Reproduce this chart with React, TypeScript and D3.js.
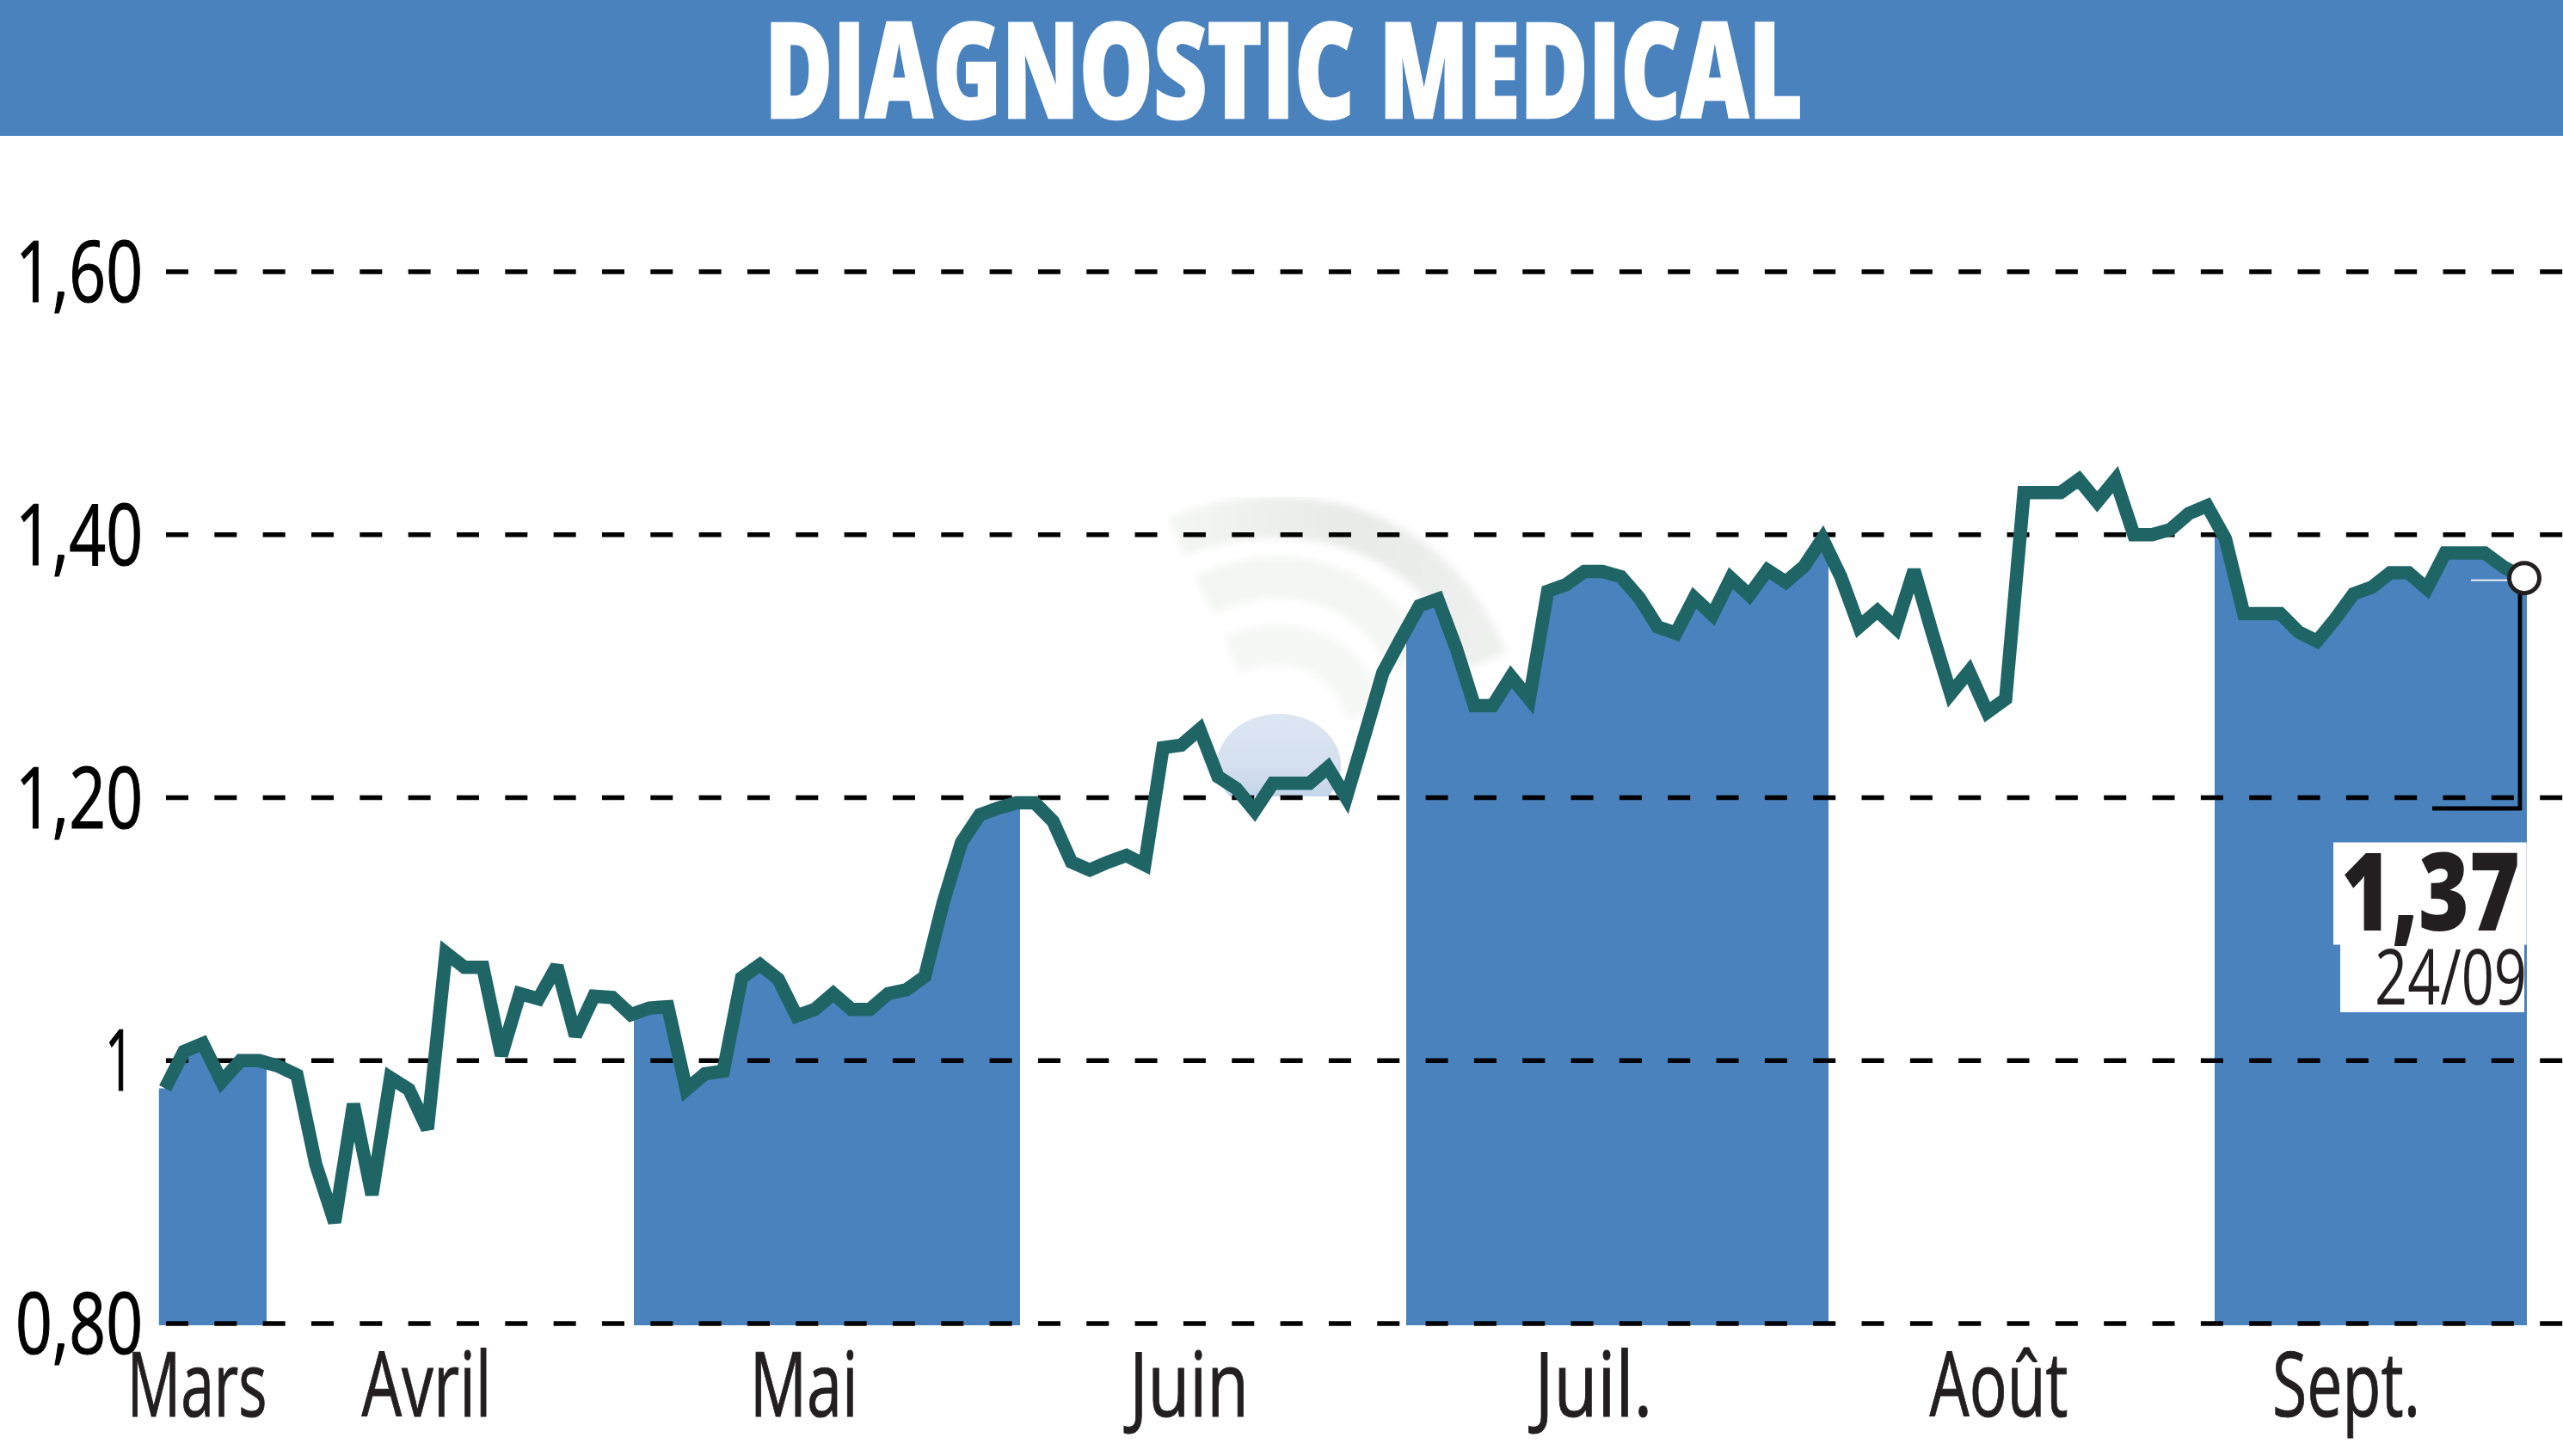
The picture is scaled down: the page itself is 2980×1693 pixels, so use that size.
import React from "react";
import * as d3 from "d3";

const title = "DIAGNOSTIC MEDICAL";
const yTicks = [0.8, 1, 1.2, 1.4, 1.6];
const yTickLabels = ["0,80", "1", "1,20", "1,40", "1,60"];
const monthLabels = ["Mars", "Avril", "Mai", "Juin", "Juil.", "Août", "Sept."];
// Session index around which each month label is centred
const monthCentres = [1.69, 13.95, 34.4, 55.43, 77.5, 99.63, 118.6];
// Alternate month bands, as session indices
const bandStarts = [-0.34, 25.16, 67.28, 111.42];
const bandEnds = [5.39, 46.2, 90.33, 128.13];
const lastValue = "1,37";
const lastDate = "24/09";

const closes = [
  0.979, 1.007, 1.013, 0.984, 1.0, 1.0, 0.996, 0.989, 0.921, 0.877,
  0.967, 0.898, 0.987, 0.978, 0.948, 1.082, 1.071, 1.071, 1.004, 1.051,
  1.047, 1.072, 1.019, 1.049, 1.048, 1.035, 1.04, 1.041, 0.978, 0.99,
  0.992, 1.063, 1.073, 1.062, 1.034, 1.039, 1.051, 1.039, 1.039, 1.051,
  1.054, 1.064, 1.12, 1.166, 1.187, 1.192, 1.196, 1.196, 1.182, 1.151,
  1.145, 1.151, 1.156, 1.149, 1.238, 1.24, 1.252, 1.216, 1.207, 1.19,
  1.211, 1.211, 1.211, 1.223, 1.2, 1.247, 1.295, 1.321, 1.346, 1.351,
  1.314, 1.27, 1.27, 1.292, 1.275, 1.357, 1.362, 1.372, 1.372, 1.368,
  1.352, 1.33, 1.325, 1.352, 1.339, 1.367, 1.354, 1.373, 1.364, 1.376,
  1.397, 1.368, 1.33, 1.342, 1.329, 1.373, 1.325, 1.279, 1.296, 1.265,
  1.275, 1.432, 1.432, 1.432, 1.442, 1.425, 1.442, 1.4, 1.4, 1.404,
  1.416, 1.422, 1.397, 1.34, 1.34, 1.34, 1.326, 1.319, 1.336, 1.355,
  1.36, 1.371, 1.371, 1.359, 1.386, 1.386, 1.386, 1.375, 1.367,
];

const BLUE = "#4a82be";
const LINE = "#1f6566";
const INK = "#231f20";
const FONT = "'Open Sans', sans-serif";
const W = 2980;
const H = 1693;

const xScale = d3
  .scaleLinear()
  .domain([0, 10, 30, 90, 124, 128])
  .range([192, 411, 841, 2119, 2843, 2935]);
const yScale = d3.scaleLinear().domain([1, 1.2]).range([1233.3, 927.5]);

type Pt = [number, number];
const points: Pt[] = closes.map((v, i) => [i, v]);
const areaPoints: Pt[] = [
  [bandStarts[0], closes[0]],
  ...points,
  [bandEnds[bandEnds.length - 1], closes[closes.length - 1]],
];

const lineGen = d3.line<Pt>().x((d) => xScale(d[0])).y((d) => yScale(d[1]));
const areaGen = d3
  .area<Pt>()
  .x((d) => xScale(d[0]))
  .y0(1541)
  .y1((d) => yScale(d[1]));

const monthWidths = [163, 151, 126, 139, 137, 161, 172];
const tickWidths = [148, 34, 148, 148, 148];

export default function App() {
  const last = closes.length - 1;
  const cx = xScale(last);
  const cy = yScale(closes[last]);
  return (
    <svg
      width={W}
      height={H}
      viewBox={`0 0 ${W} ${H}`}
      style={{ position: "absolute", left: 0, top: 0, display: "block", background: "#fff" }}
    >
      <defs>
        <filter id="soft" x="-10%" y="-10%" width="120%" height="120%">
          <feGaussianBlur stdDeviation="5" />
        </filter>
        <linearGradient id="dome" x1="0" y1="0" x2="0" y2="1">
          <stop offset="0" stopColor="#dde6f3" />
          <stop offset="0.5" stopColor="#d5e0f0" />
          <stop offset="1" stopColor="#b9cee6" />
        </linearGradient>
        <linearGradient id="arcA" x1="0" y1="0" x2="1" y2="0">
          <stop offset="0" stopColor="#f3f6f2" />
          <stop offset="0.55" stopColor="#e8eae8" />
          <stop offset="1" stopColor="#eef0ee" />
        </linearGradient>
        <clipPath id="domeClip">
          <rect x={1400} y={820} width={180} height={106} />
        </clipPath>
        {bandStarts.map((s, i) => (
          <clipPath id={`band${i}`} key={i}>
            <rect x={xScale(s)} y={0} width={xScale(bandEnds[i]) - xScale(s)} height={H} />
          </clipPath>
        ))}
      </defs>

      <rect x={0} y={0} width={W} height={158} fill={BLUE} />
      <text
        x={889}
        y={137}
        fontFamily={FONT}
        fontWeight={800}
        fontSize={155}
        fill="#fff"
        stroke="#fff"
        strokeWidth={2.5}
        textLength={1207}
        lengthAdjust="spacingAndGlyphs"
      >
        {title}
      </text>

      <g filter="url(#soft)" fill="none" strokeWidth={48}>
        <path d="M1368 624 C1480 578 1660 592 1729 768" stroke="url(#arcA)" />
        <path d="M1400 692 C1480 652 1590 667 1640 770" stroke="#f3f6f2" />
        <path d="M1432 762 C1490 737 1560 747 1590 830" stroke="#f6f8f6" />
      </g>
      <ellipse cx={1487} cy={890} rx={72} ry={60} fill="url(#dome)" clipPath="url(#domeClip)" />

      {bandStarts.map((_, i) => (
        <path key={i} d={areaGen(areaPoints) ?? ""} fill={BLUE} clipPath={`url(#band${i})`} />
      ))}

      {yTicks.map((t) => (
        <line
          key={t}
          x1={193}
          x2={W}
          y1={yScale(t)}
          y2={yScale(t)}
          stroke="#000"
          strokeWidth={5.5}
          strokeDasharray="26 30.33"
        />
      ))}

      {yTicks.map((t, i) => (
        <text
          key={t}
          x={i === 1 ? 122 : 18}
          y={yScale(t) + 35}
          fontFamily={FONT}
          fontSize={98}
          fill="#000"
          stroke="#000"
          strokeWidth={1.2}
          textLength={tickWidths[i]}
          lengthAdjust="spacingAndGlyphs"
        >
          {yTickLabels[i]}
        </text>
      ))}

      {monthLabels.map((m, i) => (
        <text
          key={m}
          x={xScale(monthCentres[i]) - monthWidths[i] / 2}
          y={1647}
          fontFamily={FONT}
          fontSize={104}
          fill={INK}
          stroke={INK}
          strokeWidth={1}
          textLength={monthWidths[i]}
          lengthAdjust="spacingAndGlyphs"
        >
          {m}
        </text>
      ))}

      <path
        d={lineGen(points) ?? ""}
        fill="none"
        stroke={LINE}
        strokeWidth={15.5}
        strokeLinejoin="miter"
        strokeMiterlimit={2.5}
      />

      <line x1={cx - 62} x2={cx - 15} y1={cy + 2.5} y2={cy + 2.5} stroke="#fff" strokeWidth={1.6} />
      <path d={`M${cx - 5} ${cy} V940 H2828`} fill="none" stroke="#000" strokeWidth={4.8} />
      <circle cx={cx} cy={cy} r={17.5} fill="#fff" stroke={INK} strokeWidth={5} />

      <rect x={2713} y={979.5} width={224.7} height={119} fill="#fff" />
      <rect x={2721} y={1098} width={214} height={79} fill="#fff" />
      <text
        x={2722}
        y={1082}
        fontFamily={FONT}
        fontWeight={800}
        fontSize={126}
        fill={INK}
        textLength={208}
        lengthAdjust="spacingAndGlyphs"
      >
        {lastValue}
      </text>
      <text
        x={2761}
        y={1168}
        fontFamily={FONT}
        fontSize={90}
        fill={INK}
        textLength={177}
        lengthAdjust="spacingAndGlyphs"
      >
        {lastDate}
      </text>
    </svg>
  );
}
